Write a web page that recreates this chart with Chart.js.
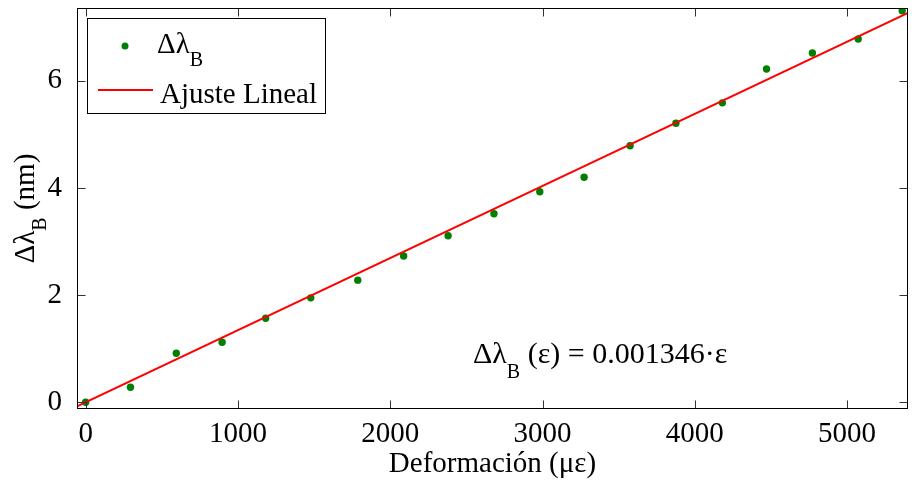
<!DOCTYPE html>
<html>
<head>
<meta charset="utf-8">
<script src="https://cdn.jsdelivr.net/npm/chart.js@4.4.1/dist/chart.umd.min.js"></script>
<style>
  html, body { margin: 0; padding: 0; background: #fff; }
  #wrap { width: 912px; height: 480px; position: relative; }
</style>
</head>
<body>
<div id="wrap"><canvas id="strainChart"></canvas></div>
<script>
// ── Data ────────────────────────────────────────────────────────────
const strain  = [0, 294, 595, 896, 1182, 1478, 1787, 2088, 2380, 2681, 2982, 3273, 3575, 3876, 4181, 4471, 4772, 5073, 5362];
const dLambda = [0.00, 0.28, 0.915, 1.12, 1.57, 1.95, 2.28, 2.73, 3.11, 3.52, 3.93, 4.20, 4.79, 5.21, 5.59, 6.22, 6.52, 6.78, 7.31];
// linear fit endpoints (Δλ = 0.001346·ε), read at the plot edges
const fitStrain = [-57, 5400];
const fitLambda = [-0.077, 7.268];
const xTicks = [0, 1000, 2000, 3000, 4000, 5000];
const yTicks = [0, 2, 4, 6];
const xRange = [-57, 5400];
const yRange = [-0.125, 7.36];

const FONT = '"Liberation Serif", "Times New Roman", serif';

// ── Inward ticks, box, legend, annotation, y title ──────────────────
const decorPlugin = {
  id: 'decor',
  afterDraw(chart) {
    const { ctx, chartArea: a, scales: { x, y } } = chart;
    const L = a.left + 0.5, R = a.right - 0.5, T = a.top + 0.5, B = a.bottom - 0.5;
    ctx.save();

    // tick marks on all four sides
    ctx.strokeStyle = '#333';
    ctx.lineWidth = 1;
    ctx.beginPath();
    xTicks.forEach(function(v) {
      const px = Math.round(x.getPixelForValue(v)) + 0.5;
      ctx.moveTo(px, B); ctx.lineTo(px, B - 8);
      ctx.moveTo(px, T); ctx.lineTo(px, T + 8);
    });
    yTicks.forEach(function(v) {
      const py = Math.round(y.getPixelForValue(v)) + 0.5;
      ctx.moveTo(L, py); ctx.lineTo(L + 8, py);
      ctx.moveTo(R, py); ctx.lineTo(R - 8, py);
    });
    ctx.stroke();

    // axes box
    ctx.strokeStyle = '#000';
    ctx.strokeRect(L, T, R - L, B - T);

    // legend
    ctx.fillStyle = '#fff';
    ctx.fillRect(87.5, 18.5, 238, 95);
    ctx.strokeStyle = '#000';
    ctx.strokeRect(87.5, 18.5, 238, 95);

    ctx.fillStyle = '#008000';
    ctx.beginPath();
    ctx.arc(125, 46, 3.5, 0, Math.PI * 2);
    ctx.fill();

    ctx.fillStyle = '#000';
    ctx.textBaseline = 'alphabetic';
    ctx.textAlign = 'left';
    drawSub(ctx, 'Δλ', 'B', '', 157, 53, 13, 29);

    ctx.strokeStyle = '#ff0000';
    ctx.lineWidth = 2;
    ctx.beginPath();
    ctx.moveTo(98, 90); ctx.lineTo(153, 90);
    ctx.stroke();
    ctx.fillStyle = '#000';
    ctx.font = '29px ' + FONT;
    ctx.fillText('Ajuste Lineal', 160, 103);

    // fit equation
    drawSub(ctx, 'Δλ', 'B', ' (ε) = 0.001346·ε', 473, 363, 15, 30);

    // y-axis title, rotated
    ctx.translate(34, (a.top + a.bottom) / 2);
    ctx.rotate(-Math.PI / 2);
    ctx.font = '29px ' + FONT;
    const w1 = ctx.measureText('Δλ').width;
    const w3 = ctx.measureText(' (nm)').width;
    ctx.font = '20px ' + FONT;
    const w2 = ctx.measureText('B').width;
    drawSub(ctx, 'Δλ', 'B', ' (nm)', -(w1 + w2 + w3) / 2, 0, 12, 29);

    ctx.restore();
  }
};

function drawSub(ctx, main, sub, rest, x0, y0, drop, size) {
  ctx.font = size + 'px ' + FONT;
  ctx.fillText(main, x0, y0);
  let cx = x0 + ctx.measureText(main).width;
  ctx.font = '20px ' + FONT;
  ctx.fillText(sub, cx, y0 + drop);
  cx += ctx.measureText(sub).width;
  ctx.font = size + 'px ' + FONT;
  if (rest) ctx.fillText(rest, cx, y0);
}

// ── Chart ───────────────────────────────────────────────────────────
const points = strain.map(function(v, i) { return { x: v, y: dLambda[i] }; });
const fitLine = fitStrain.map(function(v, i) { return { x: v, y: fitLambda[i] }; });

new Chart(document.getElementById('strainChart'), {
  type: 'scatter',
  data: {
    datasets: [
      {
        label: 'Δλ_B',
        data: points,
        backgroundColor: '#008000',
        borderColor: '#008000',
        pointRadius: 3.7,
        pointBorderWidth: 0,
        order: 1
      },
      {
        label: 'Ajuste Lineal',
        type: 'line',
        data: fitLine,
        borderColor: '#ff0000',
        borderWidth: 2,
        pointRadius: 0,
        fill: false,
        order: 0
      }
    ]
  },
  options: {
    animation: false,
    responsive: true,
    maintainAspectRatio: false,
    layout: { padding: { top: 8, right: 1, left: 0, bottom: 0 } },
    plugins: { legend: { display: false }, tooltip: { enabled: false } },
    scales: {
      x: {
        type: 'linear',
        min: xRange[0], max: xRange[1],
        afterBuildTicks: function(s) { s.ticks = xTicks.map(function(v) { return { value: v }; }); },
        afterFit: function(s) { s.height = 71; s.paddingLeft = 0; s.paddingRight = 0; },
        grid: { display: false },
        border: { display: false },
        ticks: { font: { size: 29, family: FONT }, color: '#000', padding: 0, maxRotation: 0, callback: function(v) { return String(v); } },
        title: { display: true, text: 'Deformación (με)', font: { size: 29, family: FONT }, color: '#000', padding: { top: 0, bottom: -2 } }
      },
      y: {
        type: 'linear',
        min: yRange[0], max: yRange[1],
        afterBuildTicks: function(s) { s.ticks = yTicks.map(function(v) { return { value: v }; }); },
        afterFit: function(s) { s.width = 77; s.paddingTop = 0; s.paddingBottom = 0; },
        grid: { display: false },
        border: { display: false },
        ticks: { font: { size: 29, family: FONT }, color: '#000', padding: 7, callback: function(v) { return String(v); } }
      }
    }
  },
  plugins: [decorPlugin]
});
</script>
</body>
</html>
